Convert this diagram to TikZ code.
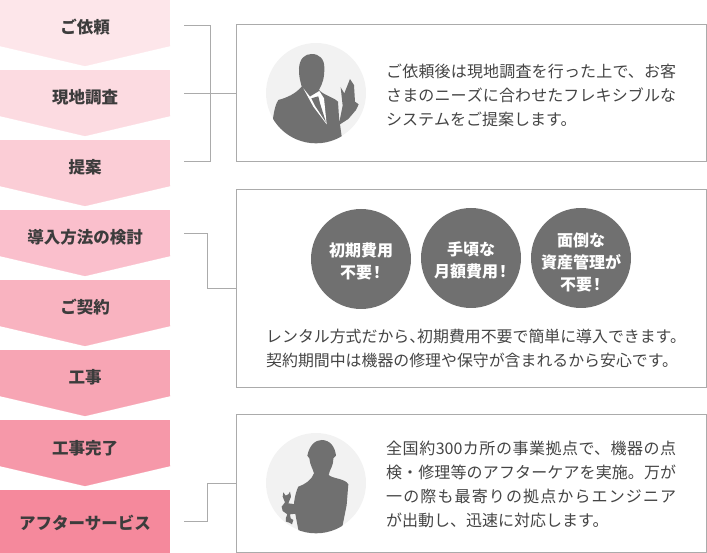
\documentclass[tikz,border=0pt]{standalone}
\usepackage{fontspec}
\setmainfont{Noto Sans CJK JP}
\usepackage{tikz}
\usetikzlibrary{positioning}
\XeTeXlinebreaklocale "ja"
\XeTeXlinebreakskip=0pt plus 3pt
\newcommand{\bang}{\kern-3pt！\kern-3pt}
\definecolor{flowa}{HTML}{FDE6EA}
\definecolor{flowb}{HTML}{FCDBE1}
\definecolor{flowc}{HTML}{FBCDD6}
\definecolor{flowd}{HTML}{FABFCC}
\definecolor{flowe}{HTML}{F9B3C0}
\definecolor{flowf}{HTML}{F7A5B4}
\definecolor{flowg}{HTML}{F698A9}
\definecolor{flowh}{HTML}{F5899C}
\definecolor{inkdark}{HTML}{3C3C3C}
\definecolor{inkbody}{HTML}{444444}
\definecolor{figgrey}{HTML}{707070}
\definecolor{figpale}{HTML}{F2F2F2}
\definecolor{linegrey}{HTML}{ABABAB}
\tikzset{
  stepbox/.style={minimum width=170pt, minimum height=46pt, inner sep=0pt, outer sep=0pt, text=inkdark,
    font=\fontsize{16.5}{18}\selectfont\bfseries, text height=24pt, text depth=2pt},
  steptip/.style={fill=#1, draw=#1, line width=0.2pt},
  infobox/.style={draw=linegrey, line width=1pt, minimum width=470pt, inner sep=0pt},
  linkline/.style={draw=linegrey, line width=1pt},
  avatar/.style={circle, fill=figpale, minimum size=100pt, inner sep=0pt},
  badge/.style={circle, fill=figgrey, minimum size=100pt, inner sep=0pt},
  badgetext/.style={text=white, align=center, inner sep=0pt,
    font=\fontsize{16}{22}\selectfont\bfseries},
  bodytext/.style={text=inkbody, text width=290pt, align=justify, inner sep=0pt,
    font=\fontsize{16}{24}\selectfont},
}
\begin{document}
\begin{tikzpicture}[x=1pt, y=-1pt]
  \useasboundingbox (0,0) rectangle (707,553);
  % flow on the left
  \node[stepbox, fill=flowa] (s1) at (85,23) {ご依頼};
  \node[stepbox, fill=flowb] (s2) [below=24pt of s1] {現地調査};
  \node[stepbox, fill=flowc] (s3) [below=24pt of s2] {提案};
  \node[stepbox, fill=flowd] (s4) [below=24pt of s3] {導入方法の検討};
  \node[stepbox, fill=flowe] (s5) [below=24pt of s4] {ご契約};
  \node[stepbox, fill=flowf] (s6) [below=24pt of s5] {工事};
  \node[stepbox, fill=flowg] (s7) [below=24pt of s6] {工事完了};
  \node[stepbox, fill=flowh, minimum height=63pt, text height=21pt, text depth=5pt] (s8) [below=24pt of s7] {アフターサービス};
  \fill[steptip=flowa] (s1.south west) -- (s1.south east) -- ([yshift=-20pt]s1.south) -- cycle;
  \fill[steptip=flowb] (s2.south west) -- (s2.south east) -- ([yshift=-20pt]s2.south) -- cycle;
  \fill[steptip=flowc] (s3.south west) -- (s3.south east) -- ([yshift=-20pt]s3.south) -- cycle;
  \fill[steptip=flowd] (s4.south west) -- (s4.south east) -- ([yshift=-20pt]s4.south) -- cycle;
  \fill[steptip=flowe] (s5.south west) -- (s5.south east) -- ([yshift=-20pt]s5.south) -- cycle;
  \fill[steptip=flowf] (s6.south west) -- (s6.south east) -- ([yshift=-20pt]s6.south) -- cycle;
  \fill[steptip=flowg] (s7.south west) -- (s7.south east) -- ([yshift=-20pt]s7.south) -- cycle;
  % boxes on the right
  \node[infobox, minimum height=137pt] (b1) at (471,93.5) {};
  \node[infobox, minimum height=197pt] (b2) at (471,288.5) {};
  \node[infobox, minimum height=138pt] (b3) at (471,483) {};
  % brackets
  \coordinate (c1) at (184,25.5);
  \coordinate (c2) at (184,94);
  \coordinate (c3) at (184,162);
  \coordinate (c4) at (184,234);
  \coordinate (c8) at (184,521);
  \draw[linkline] (c1) -| (210,162) -- (c3);
  \draw[linkline] (c2) -- (c2 -| b1.west);
  \draw[linkline] (c4) -| (207,289) -- (207,289 -| b2.west);
  \draw[linkline] (c8) -| (207,483) -- (207,483 -| b3.west);
  % first box
  \node[avatar] (a1) at (316,93) {};
  \begin{scope}[shift={(250,35)}, x=0.3333pt, y=-0.3333pt]
    \clip (198,175) circle [radius=150];
    \fill[figgrey] (147,100) .. controls (149,70) and (165,57) .. (185,57)
      .. controls (208,57) and (224,72) .. (223,100)
      .. controls (223,130) and (218,145) .. (207,165) -- (215,172)
      .. controls (235,185) and (255,190) .. (264,200) -- (268,262)
      -- (278,212) -- (272,157) -- (283,175) -- (300,132) -- (312,150) -- (315,200)
      -- (326,208) -- (318,225) -- (295,252) -- (270,268) -- (280,340) -- (60,340) -- (68,258)
      .. controls (72,225) and (78,205) .. (85,195)
      .. controls (110,188) and (135,178) .. (155,155)
      .. controls (150,135) and (146,120) .. (147,100) -- cycle;
    \fill[white] (160,160) -- (190,215) -- (230,268) -- (222,190) -- (208,168) -- (180,185) -- cycle;
    \fill[figgrey] (184,190) -- (205,184) -- (210,205) -- (228,262) -- (195,212) -- cycle;
  \end{scope}
  \node[bodytext, anchor=west] (t1) at (386,95.5) {ご依頼後は現地調査を行った上で、お客\linebreak さまのニーズに合わせたフレキシブルな\linebreak システムをご提案します。};
  % second box
  \node[badge] (r1) at (361,259) {};
  \node[badge] (r2) at (471,258) {};
  \node[badge] (r3) at (581,258) {};
  \node[badgetext] (l1) at ([yshift=-2pt]r1) {初期費用\\不要\bang};
  \node[badgetext] (l2) at ([yshift=-2.5pt]r2) {手頃な\\月額費用\bang};
  \node[badgetext] (l3) at ([yshift=-4pt]r3) {面倒な\\資産管理が\\不要\bang};
  \node[bodytext, anchor=west, text width=420pt, font=\fontsize{15.9}{24}\selectfont] (t2) at (266,348) {レンタル方式だから、\kern-8pt 初期費用不要で簡単に導入できます。\\契約期間中は機器の修理や保守が含まれるから安心です。};
  % third box
  \node[avatar] (a3) at (316,483) {};
  \begin{scope}[shift={(250,425)}, x=0.3333pt, y=-0.3333pt]
    \clip (198,175) circle [radius=150];
    \fill[figgrey] (172,92) .. controls (178,62) and (195,45) .. (215,45)
      .. controls (240,45) and (255,65) .. (258,92) -- (250,100)
      .. controls (250,125) and (240,130) .. (236,150)
      .. controls (250,162) and (285,160) .. (295,178) -- (290,240) -- (278,300) -- (270,340) -- (150,340)
      -- (135,262) -- (132,235) .. controls (135,210) and (140,195) .. (145,185)
      .. controls (165,178) and (185,165) .. (192,145)
      .. controls (188,130) and (180,120) .. (178,100) -- cycle;
    \fill[figgrey] (100,202) -- (107,212) -- (115,208) -- (120,200) -- (123,215) -- (115,235)
      -- (138,238) -- (138,266) -- (120,268) -- (122,280) -- (130,285) -- (126,298) -- (118,293)
      -- (108,290) -- (108,278) -- (112,268) -- (98,258) -- (95,245) -- (105,232) -- (98,215) -- cycle;
  \end{scope}
  \node[bodytext, anchor=west] (t3) at (386,484) {全国約300カ所の事業拠点で、機器の点\linebreak 検・修理等のアフターケアを実施。万が\linebreak 一の際も最寄りの拠点からエンジニア\linebreak が出動し、迅速に対応します。};
\end{tikzpicture}
\end{document}
